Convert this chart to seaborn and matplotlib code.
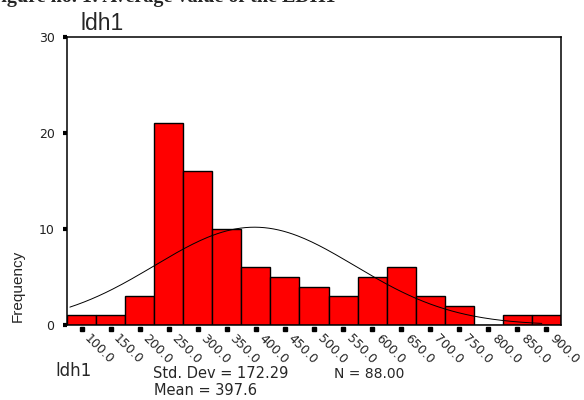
import numpy as np
import pandas as pd
import seaborn as sns
import matplotlib
matplotlib.use("Agg")
import matplotlib.pyplot as plt
from matplotlib.transforms import ScaledTranslation, blended_transform_factory

# ---- data ----
bin_centers = [100, 150, 200, 250, 300, 350, 400, 450, 500, 550, 600, 650, 700, 750, 800, 850, 900]
counts = [1, 1, 3, 21, 16, 10, 6, 5, 4, 3, 5, 6, 3, 2, 0, 1, 1]
tick_labels = ["100.0", "150.0", "200.0", "250.0", "300.0", "350.0", "400.0", "450.0", "500.0",
               "550.0", "600.0", "650.0", "700.0", "750.0", "800.0", "850.0", "900.0"]
mean_val = 397.6
std_val = 172.29
n_val = 88
bin_width = 50
yticks = [0, 10, 20, 30]

sns.set_style("white")
plt.rcParams["font.family"] = ["DejaVu Sans"]

fig = plt.figure(figsize=(5.84, 4.00), dpi=100)
ax = fig.add_axes([67/584, 1-325/400, (561-67)/584, (325-37)/400])

df = pd.DataFrame({"ldh1": bin_centers, "count": counts})
edges = [c - bin_width/2 for c in bin_centers] + [bin_centers[-1] + bin_width/2]
sns.histplot(data=df, x="ldh1", weights="count", bins=edges, color="#ff0000",
             edgecolor="black", linewidth=1.0, alpha=1, ax=ax)

# normal curve from the reported mean / sd
xs = np.linspace(80, 892, 200)
ys = n_val * bin_width * np.exp(-0.5 * ((xs - mean_val) / std_val) ** 2) / (std_val * np.sqrt(2*np.pi))
sns.lineplot(x=xs, y=ys, color="black", linewidth=0.7, ax=ax)

ax.set_xlim(edges[0], edges[-1])
ax.set_ylim(0, 30)
ax.set_xlabel("")
ax.set_ylabel("")

for s in ax.spines.values():
    s.set_visible(True)
    s.set_color("black")
    s.set_linewidth(1.1)

ax.set_yticks(yticks)
ax.set_yticklabels([str(v) for v in yticks], fontsize=9, color="#222222")
ax.tick_params(axis="y", direction="out", length=3, width=3, pad=6, left=True, color="black")

ax.set_xticks(bin_centers)
ax.set_xticklabels(tick_labels, fontsize=9, rotation=-45, ha="left", va="center",
                   rotation_mode="anchor")
ax.tick_params(axis="x", length=0, pad=8.5, bottom=True)
for lab in ax.get_xticklabels():
    lab.set_transform(lab.get_transform() + ScaledTranslation(5/100, 0, fig.dpi_scale_trans))

trans = blended_transform_factory(ax.transData, ax.transAxes)
ax.plot(bin_centers, [-0.014]*len(bin_centers), transform=trans, marker="s", ms=2.2,
        ls="none", color="black", clip_on=False)

# texts
fig.text(-11/584, 1-2/400, "Figure no. 1: Average value of the LDH1", fontsize=14.5,
         fontweight="bold", family=["Liberation Serif"], va="baseline", ha="left")
fig.text(80/584, 1-30/400, "ldh1", fontsize=16.5, va="baseline", ha="left",
         family=["Liberation Sans"])
fig.text(18/584, 1-286/400, "Frequency", fontsize=11, rotation=90, va="center", ha="center",
         family=["Liberation Sans"])
fig.text(55/584, 1-376/400, "ldh1", fontsize=12, va="baseline", ha="left")
fig.text(153/584, 1-378/400, "Std. Dev = %.2f" % std_val, fontsize=10.5, va="baseline", ha="left")
fig.text(334/584, 1-378/400, "N = %.2f" % n_val, fontsize=10, va="baseline", ha="left")
fig.text(154/584, 1-395/400, "Mean = %.1f" % mean_val, fontsize=10.5, va="baseline", ha="left")

fig.savefig("out.png", dpi=100)
